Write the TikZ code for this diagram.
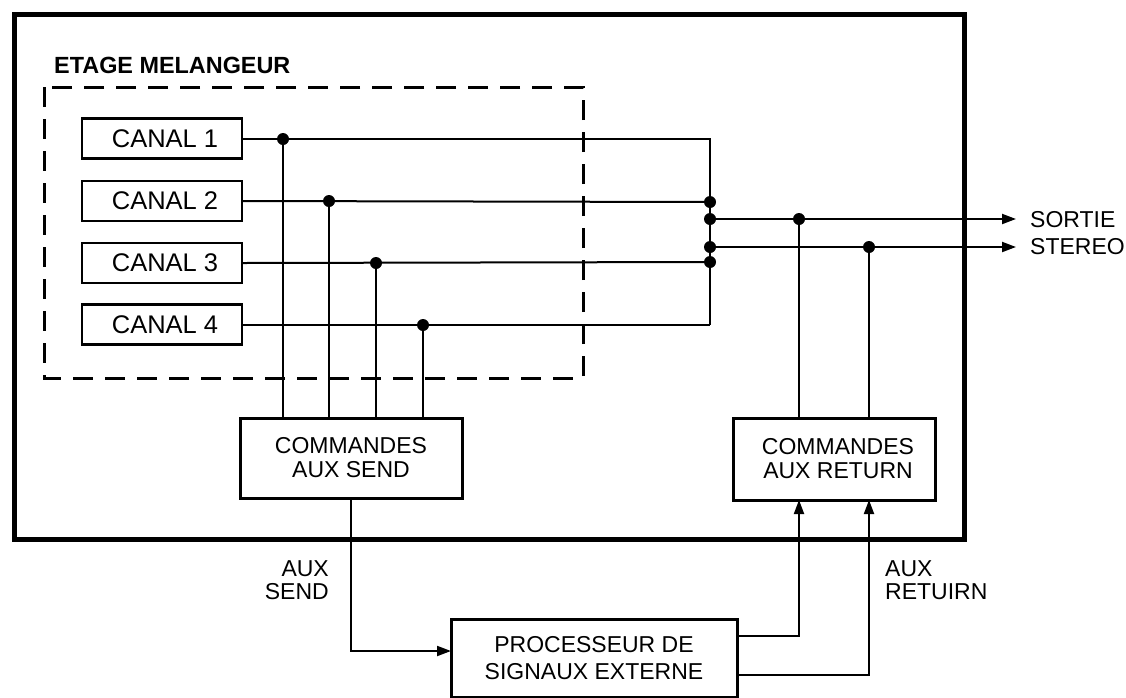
\documentclass[tikz,border=0pt]{standalone}
\usepackage{fontspec}
\setmainfont{Liberation Sans}
\usetikzlibrary{arrows.meta}
\begin{document}
\begin{tikzpicture}[x=1pt,y=-1pt,
  wire/.style={line width=2pt},
  arr/.style={line width=2pt,-{Triangle[length=14pt,width=10pt]}},
  canal/.style={draw,line width=2.4pt,minimum width=160pt,minimum height=40pt,inner sep=0pt,font=\fontsize{25.5}{25.5}\selectfont},
  cmd/.style={draw,line width=3pt,inner sep=0pt,align=center,font=\fontsize{23}{24}\selectfont},
  lbl/.style={inner sep=0pt,font=\fontsize{23}{23}\selectfont},
  dot/.style={circle,fill=black,inner sep=0pt,minimum size=12pt}]
\useasboundingbox (0,0) rectangle (1126,697);
% outer frame
\draw[line width=5pt] (14,14) rectangle (964,539);
% mixer stage
\draw[line width=3pt,dash pattern=on 20pt off 12pt] (44,87) rectangle (583,378);
\node[lbl,font=\fontsize{23.4}{23}\selectfont\bfseries,anchor=west] (title) at (54,65) {ETAGE MELANGEUR};
\node[canal] (c1) at (162,138.5) {\hspace{6pt}CANAL 1};
\node[canal] (c2) at (162,201) {\hspace{6pt}CANAL 2};
\node[canal] (c3) at (162,263) {\hspace{6pt}CANAL 3};
\node[canal] (c4) at (162,324.5) {\hspace{6pt}CANAL 4};
\node[cmd,minimum width=222pt,minimum height=80pt] (send) at (351,458) {COMMANDES\\AUX SEND};
\node[cmd,minimum width=202pt,minimum height=82pt] (ret) at (834,459) {\hspace{8pt}COMMANDES\\\hspace{8pt}AUX RETURN};
\node[cmd,minimum width=286pt,minimum height=78pt,font=\fontsize{23}{27}\selectfont] (proc) at (594,658) {PROCESSEUR DE\\SIGNAUX EXTERNE};
% coordinates
\coordinate (d1) at (283,139);
\coordinate (d2) at (329,201);
\coordinate (d3) at (376,263);
\coordinate (d4) at (423,325);
\coordinate (b1) at (710,139);
\coordinate (b2) at (710,202);
\coordinate (b3) at (710,262);
\coordinate (b4) at (710,325);
\coordinate (o1) at (710,219);
\coordinate (o2) at (710,247);
\coordinate (e1) at (1016,219);
\coordinate (e2) at (1016,247);
\coordinate (r1) at (799,219);
\coordinate (r2) at (869,247);
\coordinate (pin) at (451,651);
\coordinate (p1) at (737,636);
\coordinate (p2) at (737,675);
\coordinate (q1) at (799,500);
\coordinate (q2) at (869,500);
% channel lines to bus
\draw[wire] (c1.east |- d1) -- (b1) -- (b4);
\draw[wire] (c2.east |- d2) -- (b2);
\draw[wire] (c3.east |- d3) -- (b3);
\draw[wire] (c4.east |- d4) -- (b4);
% send taps
\draw[wire] (d1) -- (d1 |- send.north);
\draw[wire] (d2) -- (d2 |- send.north);
\draw[wire] (d3) -- (d3 |- send.north);
\draw[wire] (d4) -- (d4 |- send.north);
% outputs
\draw[arr] (o1) -- (e1);
\draw[arr] (o2) -- (e2);
\draw[wire] (r1) -- (r1 |- ret.north);
\draw[wire] (r2) -- (r2 |- ret.north);
% aux loop
\draw[arr] (send.south) |- (pin);
\draw[arr] (p1) -| (q1);
\draw[arr] (p2) -| (q2);
% dots
\foreach \p in {d1,d2,d3,d4,b2,b3,o1,o2,r1,r2} \node[dot] at (\p) {};
% labels
\node[lbl,align=left,anchor=west,font=\fontsize{23}{27}\selectfont] (sortie) at (1030,233.5) {SORTIE\\STEREO};
\node[lbl,align=right,anchor=east] (auxsend) at (329,580) {AUX\\SEND};
\node[lbl,align=left,anchor=west] (auxret) at (885,580) {AUX\\RETUIRN};
\end{tikzpicture}
\end{document}
